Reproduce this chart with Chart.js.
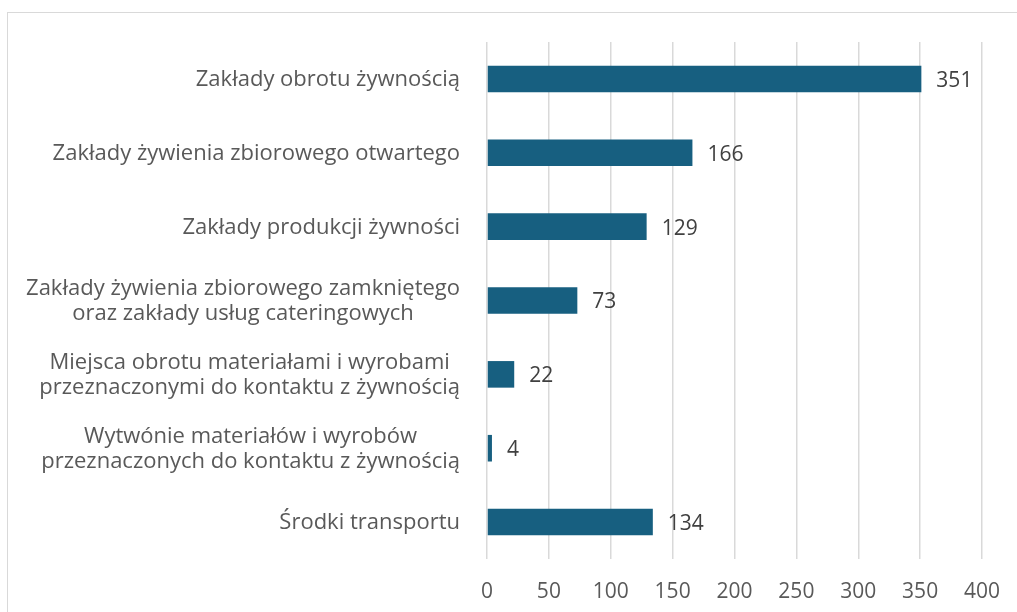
<!DOCTYPE html>
<html>
<head>
<meta charset="utf-8">
<script src="https://cdn.jsdelivr.net/npm/chart.js@4.4.1/dist/chart.umd.min.js"></script>
<style>
  html, body { margin: 0; padding: 0; background: #fff; overflow: hidden; }
  #wrap { position: relative; width: 1017px; height: 612px; }
  #frame { position: absolute; left: 7px; top: 12px; width: 1100px; height: 700px;
           border: 1.5px solid #d9d9d9; box-sizing: border-box; }
  #c { position: absolute; left: 0; top: 0; }
</style>
</head>
<body>
<div id="wrap">
  <div id="frame"></div>
  <canvas id="c" width="1017" height="612"></canvas>
</div>
<script>
// ── data ──────────────────────────────────────────────────────────────────────
const categories = [
  ['Zakłady obrotu żywnością'],
  ['Zakłady żywienia zbiorowego otwartego'],
  ['Zakłady produkcji żywności'],
  ['Zakłady żywienia zbiorowego zamkniętego', 'oraz zakłady usług cateringowych'],
  ['Miejsca obrotu materiałami i wyrobami', 'przeznaczonymi do kontaktu z żywnością'],
  ['Wytwónie materiałów i wyrobów', 'przeznaczonych do kontaktu z żywnością'],
  ['Środki transportu'],
]
const counts = [351, 166, 129, 73, 22, 4, 134]
const xMin = 0, xMax = 400, xStep = 50

const FONT = '"Open Sans", "Noto Sans", sans-serif'

// ── category labels: right-aligned block, lines centred inside it ─────────────
const catLabels = {
  id: 'catLabels',
  afterDraw(chart) {
    const { ctx } = chart
    const ys = chart.scales.y
    const right = 460, lh = 25
    ctx.save()
    ctx.font = `22px ${FONT}`
    ctx.fillStyle = '#595959'
    ctx.textAlign = 'center'
    ctx.textBaseline = 'middle'
    categories.forEach((lines, i) => {
      const cy = ys.getPixelForTick(i) + 1
      const w  = Math.max(...lines.map(l => ctx.measureText(l).width))
      const cx = right - w / 2
      lines.forEach((l, k) => ctx.fillText(l, cx, cy + (k - (lines.length - 1) / 2) * lh))
    })
    ctx.restore()
  }
}

// ── value labels at bar ends ──────────────────────────────────────────────────
const valueLabels = {
  id: 'valueLabels',
  afterDatasetsDraw(chart) {
    const { ctx } = chart
    const meta = chart.getDatasetMeta(0)
    ctx.save()
    ctx.font = `21px ${FONT}`
    ctx.fillStyle = '#404040'
    ctx.textAlign = 'left'
    ctx.textBaseline = 'middle'
    meta.data.forEach((bar, i) => ctx.fillText(String(counts[i]), bar.x + 15, bar.y + 2))
    ctx.restore()
  }
}

new Chart(document.getElementById('c'), {
  type: 'bar',
  data: {
    labels: categories,
    datasets: [{
      data: counts,
      backgroundColor: '#175f80',
      borderWidth: 0,
      barPercentage: 0.36,
      categoryPercentage: 1,
    }],
  },
  options: {
    indexAxis: 'y',
    responsive: false,
    animation: false,
    layout: { padding: { top: 42, right: 35, bottom: 0, left: 0 } },
    scales: {
      x: {
        min: xMin, max: xMax,
        ticks: { stepSize: xStep, color: '#595959', font: { family: FONT, size: 21 }, padding: 20 },
        grid: { color: '#d9d9d9', lineWidth: 1.5, drawTicks: false },
        border: { display: false },
        afterFit: s => { s.height = 53; s.paddingLeft = 0; s.paddingRight = 0 },
      },
      y: {
        ticks: { display: false },
        grid: { display: false },
        border: { display: false },
        afterFit: s => { s.width = 487 },
      },
    },
    plugins: {
      legend: { display: false },
      tooltip: { enabled: false },
    },
  },
  plugins: [catLabels, valueLabels],
})
</script>
</body>
</html>
